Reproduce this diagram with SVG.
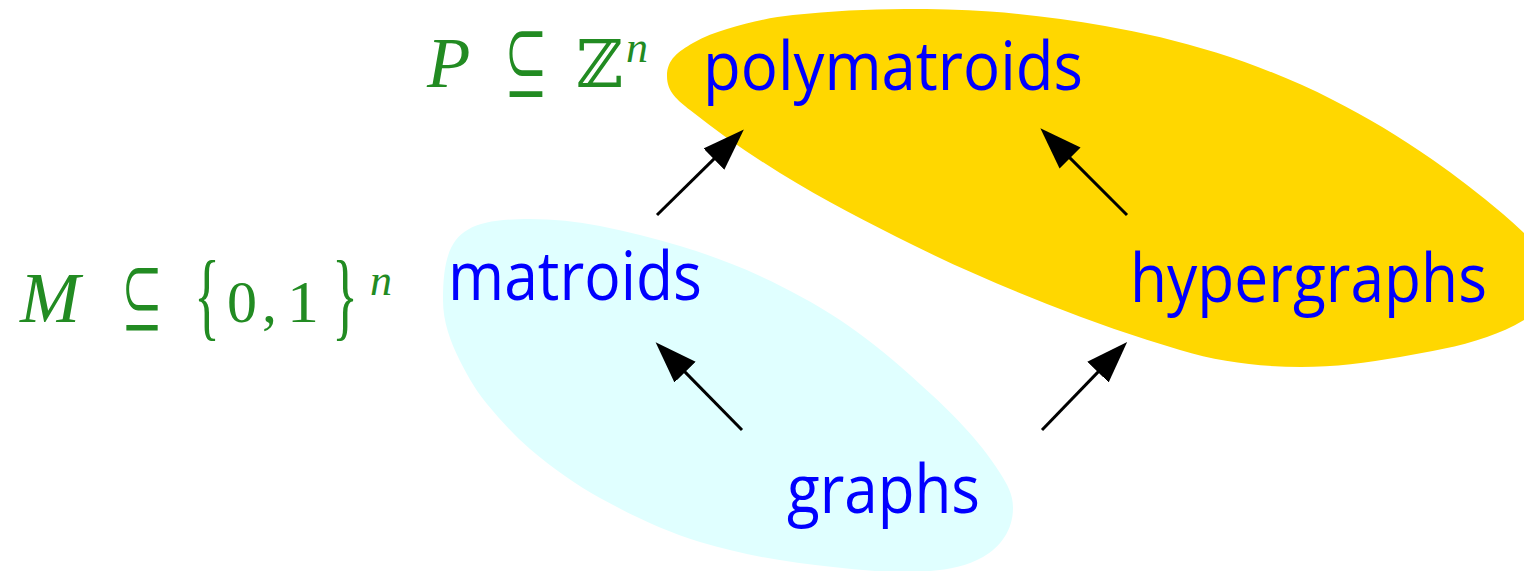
<svg xmlns="http://www.w3.org/2000/svg" width="1524" height="571" viewBox="0 0 1524 571">
<style>
.node{font-family:"Open Sans","Liberation Sans",sans-serif;font-size:68px;fill:#0000FF}
.math{font-family:"Liberation Serif","Times New Roman",serif;fill:#228B22;font-weight:normal}
.it{font-style:italic}
.sym{font-family:"Noto Sans CJK JP","DejaVu Sans",sans-serif;fill:#228B22;font-weight:normal}
.dbl{font-family:"DejaVu Serif","DejaVu Sans",serif;fill:#228B22;font-weight:normal}
.arrow{stroke:#000;stroke-width:3;fill:none;marker-end:url(#head)}
</style>
<defs>
<marker id="head" markerUnits="userSpaceOnUse" markerWidth="42" markerHeight="30" viewBox="0 0 41 29" refX="3" refY="14.5" orient="auto">
<path d="M0,0 L41,14.5 L0,29 Z" fill="#000"/>
</marker>
</defs>
<rect width="1524" height="571" fill="#fff"/>
<g id="region-polymatroids">
<path fill="#FFD700" d="M667,76 C667,59 678.4,51.7 693,43 C704.3,36.2 715.7,32.4 727,29 C749,22.4 771,17.2 793,15 C830.3,11.3 867.7,9 905,9 C933.3,9 961.7,9.5 990,11.5 C1028.3,14.2 1066.7,19.4 1105,25.9 C1142,32.2 1179,41 1216,52.5 C1255,64.6 1294,80.4 1333,99.9 C1366.3,116.6 1399.7,136.6 1433,159.9 C1456.3,176.2 1479.7,194.2 1503,214 C1510,220 1517,226.4 1524,233 C1538.5,246.8 1548,256 1548,276 C1548,294 1539.4,310.7 1524,320 C1511.7,327.4 1499.3,332.7 1487,337 C1458,347.2 1429,351.8 1400,357 C1367,362.9 1334,367 1301,367 C1260.7,367 1220.3,362.1 1180,350 C1135.7,336.7 1091.3,321.7 1047,304 C1002.3,286.1 957.7,267.3 913,245 C868.7,222.8 824.3,200.5 780,173 C750,154.4 720,134 690,110 C677.5,100 667,92 667,76 Z"/>
</g>
<g id="region-matroids">
<path fill="#E0FFFF" d="M443,300 C443,235.2 460.4,219 530,219 C553.3,219 576.7,221.3 600,226 C626.7,231.3 653.3,238 680,246 C706.7,254 733.3,263.7 760,276 C786.7,288.3 813.3,302.4 840,320 C863.3,335.4 886.7,354 910,375 C928.3,391.5 946.7,407.8 965,428 C976.7,440.8 988.3,454.3 1000,473 C1007.4,484.9 1013,494 1013,508 C1013,530 1000.4,547.2 983,557 C958.6,570.7 928,572 900,572 C877.7,572 855.3,569.2 833,567 C788.7,562.6 744.3,555.3 700,542 C666.7,532 633.3,516.3 600,498 C576.7,485.2 553.3,468.8 530,449 C515.7,436.8 501.3,421.2 487,404 C478,393.2 469,379 460,361 C450.2,341.3 443,322 443,300 Z"/>
</g>
<g id="connectors">
<line class="arrow" x1="657" y1="215" x2="716.1" y2="156.9"/>
<line class="arrow" x1="742" y1="430" x2="682.9" y2="369.9"/>
<line class="arrow" x1="1042" y1="430" x2="1100.1" y2="369.9"/>
<line class="arrow" x1="1127" y1="215" x2="1067.9" y2="155.9"/>
</g>
<g id="polymatroids"><text class="node" x="703" y="90" textLength="380" lengthAdjust="spacingAndGlyphs">polymatroids</text></g>
<g id="matroids"><text class="node" x="448" y="300" textLength="254" lengthAdjust="spacingAndGlyphs">matroids</text></g>
<g id="hypergraphs"><text class="node" x="1130" y="302" font-size="65" textLength="357" lengthAdjust="spacingAndGlyphs">hypergraphs</text></g>
<g id="graphs"><text class="node" x="787" y="513" textLength="193" lengthAdjust="spacingAndGlyphs">graphs</text></g>
<g id="label-P">
<text class="math it" x="427" y="87" font-size="71">P</text>
<text class="sym" x="504" y="96" font-size="84" textLength="44" lengthAdjust="spacingAndGlyphs">⊆</text>
<text class="dbl" x="576" y="87" font-size="66" textLength="47" lengthAdjust="spacingAndGlyphs">ℤ</text>
<text class="math it" x="626" y="62" font-size="44">n</text>
</g>
<g id="label-M">
<text class="math it" x="20" y="322" font-size="72">M</text>
<text class="sym" x="121" y="329" font-size="80" textLength="42" lengthAdjust="spacingAndGlyphs">⊆</text>
<text class="math" x="194" y="328" font-size="98" textLength="26" lengthAdjust="spacingAndGlyphs">{</text>
<text class="math" x="227" y="322" font-size="60" textLength="30" lengthAdjust="spacingAndGlyphs">0</text>
<text class="math" x="262" y="322" font-size="60">,</text>
<text class="math" x="287" y="322" font-size="60" textLength="32" lengthAdjust="spacingAndGlyphs">1</text>
<text class="math" x="332" y="328" font-size="98" textLength="26" lengthAdjust="spacingAndGlyphs">}</text>
<text class="math it" x="370" y="295" font-size="44">n</text>
</g>
</svg>
